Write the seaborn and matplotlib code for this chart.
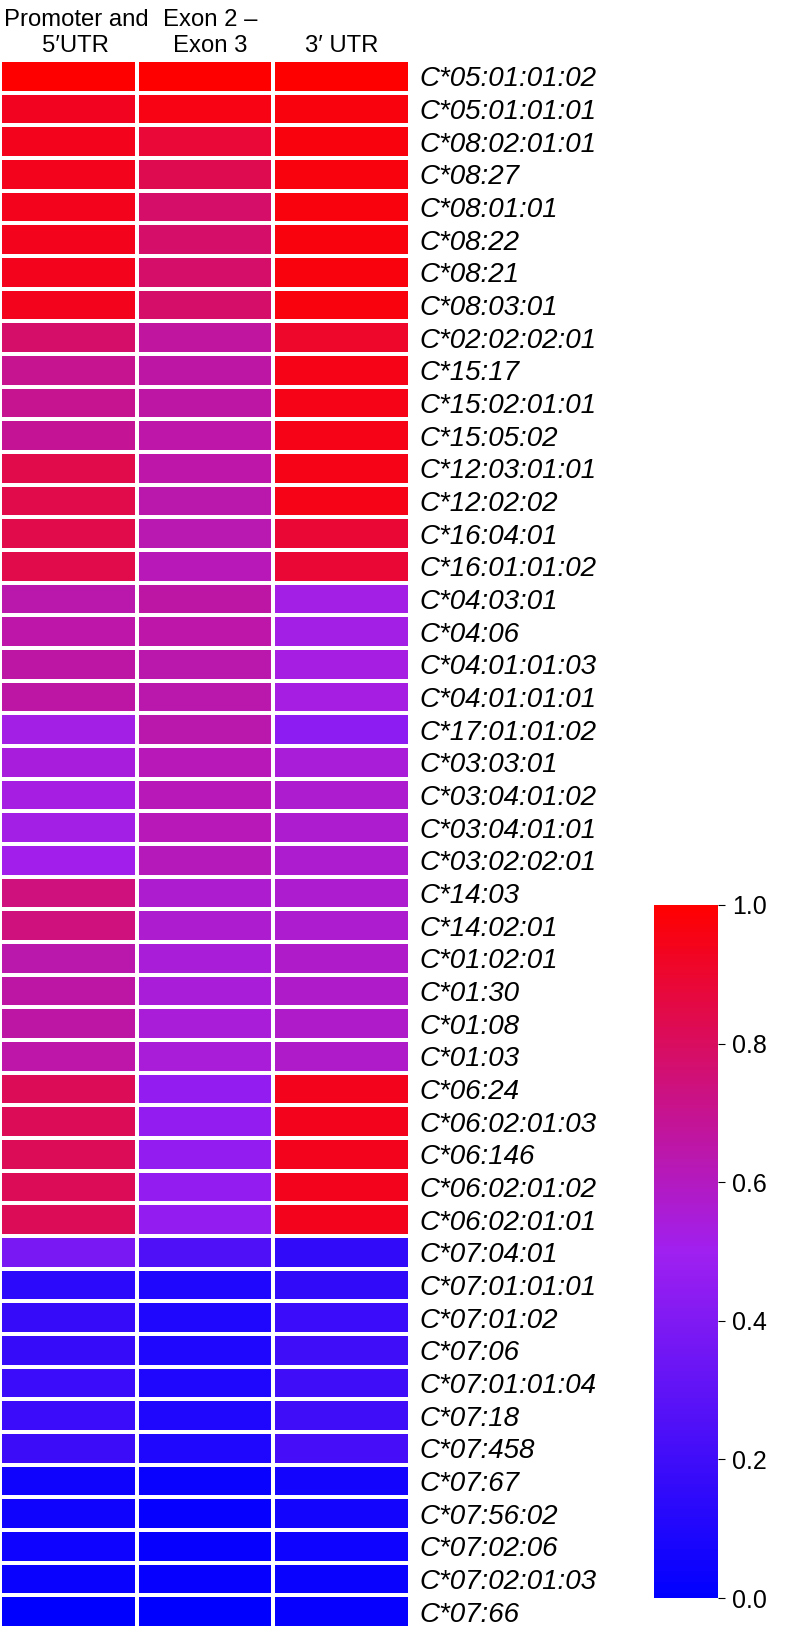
import numpy as np
import pandas as pd
import matplotlib
matplotlib.use("Agg")
import matplotlib.pyplot as plt
import seaborn as sns
from matplotlib.colors import LinearSegmentedColormap

# allele labels (top to bottom)
alleles = [
    "C*05:01:01:02", "C*05:01:01:01", "C*08:02:01:01", "C*08:27", "C*08:01:01",
    "C*08:22", "C*08:21", "C*08:03:01", "C*02:02:02:01", "C*15:17",
    "C*15:02:01:01", "C*15:05:02", "C*12:03:01:01", "C*12:02:02", "C*16:04:01",
    "C*16:01:01:02", "C*04:03:01", "C*04:06", "C*04:01:01:03", "C*04:01:01:01",
    "C*17:01:01:02", "C*03:03:01", "C*03:04:01:02", "C*03:04:01:01", "C*03:02:02:01",
    "C*14:03", "C*14:02:01", "C*01:02:01", "C*01:30", "C*01:08",
    "C*01:03", "C*06:24", "C*06:02:01:03", "C*06:146", "C*06:02:01:02",
    "C*06:02:01:01", "C*07:04:01", "C*07:01:01:01", "C*07:01:02", "C*07:06",
    "C*07:01:01:04", "C*07:18", "C*07:458", "C*07:67", "C*07:56:02",
    "C*07:02:06", "C*07:02:01:03", "C*07:66",
]

regions = ["Promoter and\n5\u2032UTR", "Exon 2 \u2013\nExon 3", "3\u2032 UTR"]

promoter = [1.00, 0.93, 0.94, 0.94, 0.94, 0.94, 0.94, 0.94, 0.78, 0.70,
            0.70, 0.69, 0.84, 0.84, 0.84, 0.84, 0.64, 0.65, 0.66, 0.66,
            0.52, 0.54, 0.53, 0.52, 0.51, 0.74, 0.74, 0.64, 0.66, 0.66,
            0.65, 0.82, 0.82, 0.82, 0.82, 0.82, 0.38, 0.14, 0.17, 0.17,
            0.18, 0.18, 0.19, 0.05, 0.05, 0.04, 0.03, 0.00]
exon = [1.00, 0.96, 0.88, 0.83, 0.78, 0.78, 0.78, 0.78, 0.67, 0.66,
        0.66, 0.65, 0.65, 0.64, 0.63, 0.62, 0.66, 0.65, 0.64, 0.64,
        0.64, 0.62, 0.62, 0.62, 0.61, 0.57, 0.57, 0.55, 0.55, 0.55,
        0.55, 0.46, 0.46, 0.46, 0.46, 0.46, 0.25, 0.10, 0.10, 0.10,
        0.10, 0.10, 0.10, 0.03, 0.02, 0.02, 0.02, 0.00]
utr3 = [1.00, 0.97, 0.97, 0.97, 0.97, 0.97, 0.97, 0.97, 0.91, 0.95,
        0.95, 0.95, 0.95, 0.95, 0.89, 0.89, 0.52, 0.52, 0.53, 0.53,
        0.44, 0.55, 0.57, 0.57, 0.57, 0.57, 0.57, 0.58, 0.58, 0.58,
        0.58, 0.94, 0.94, 0.94, 0.94, 0.94, 0.16, 0.16, 0.18, 0.20,
        0.20, 0.20, 0.22, 0.06, 0.06, 0.04, 0.03, 0.02]

df = pd.DataFrame({regions[0]: promoter, regions[1]: exon, regions[2]: utr3},
                  index=alleles)

plt.rcParams['font.family'] = ['Liberation Sans', 'DejaVu Sans']

cmap = LinearSegmentedColormap.from_list("bpr", ["#0000FF", "#A020F0", "#FF0000"])

W, H = 788, 1628
fig = plt.figure(figsize=(W / 100, H / 100), dpi=100)
ax = fig.add_axes([0, 0, 410 / W, (H - 60) / H])
cax = fig.add_axes([654 / W, 1 - 1598 / H, 64 / W, 693 / H])

sns.heatmap(df, ax=ax, cbar_ax=cax, cmap=cmap, vmin=0, vmax=1,
            linewidths=1.6, linecolor='white')

# row labels on the right, italic
ax.yaxis.tick_right()
ax.set_yticks(np.arange(len(alleles)) + 0.5)
ax.set_yticklabels(alleles, rotation=0, fontstyle='italic', fontsize=20)
ax.tick_params(axis='y', length=0, pad=7)

# column headers above the cells (drawn as text so they can be nudged)
ax.set_xticks([])
shifts = [0.055, 0.04, 0.0]
for i, r in enumerate(regions):
    ax.text(i + 0.5 + shifts[i], -0.08, r, ha='center', va='bottom',
            fontsize=17.2, linespacing=1.27, clip_on=False)
ax.set_xlabel("")
ax.set_ylabel("")

# colorbar
cax.set_yticks([0, 0.2, 0.4, 0.6, 0.8, 1.0])
cax.set_yticklabels(["0.0", "0.2", "0.4", "0.6", "0.8", "1.0"])
cax.tick_params(labelsize=18, length=5, width=0.8, pad=5)
for s in cax.spines.values():
    s.set_visible(False)

fig.savefig("out.png", dpi=100)
